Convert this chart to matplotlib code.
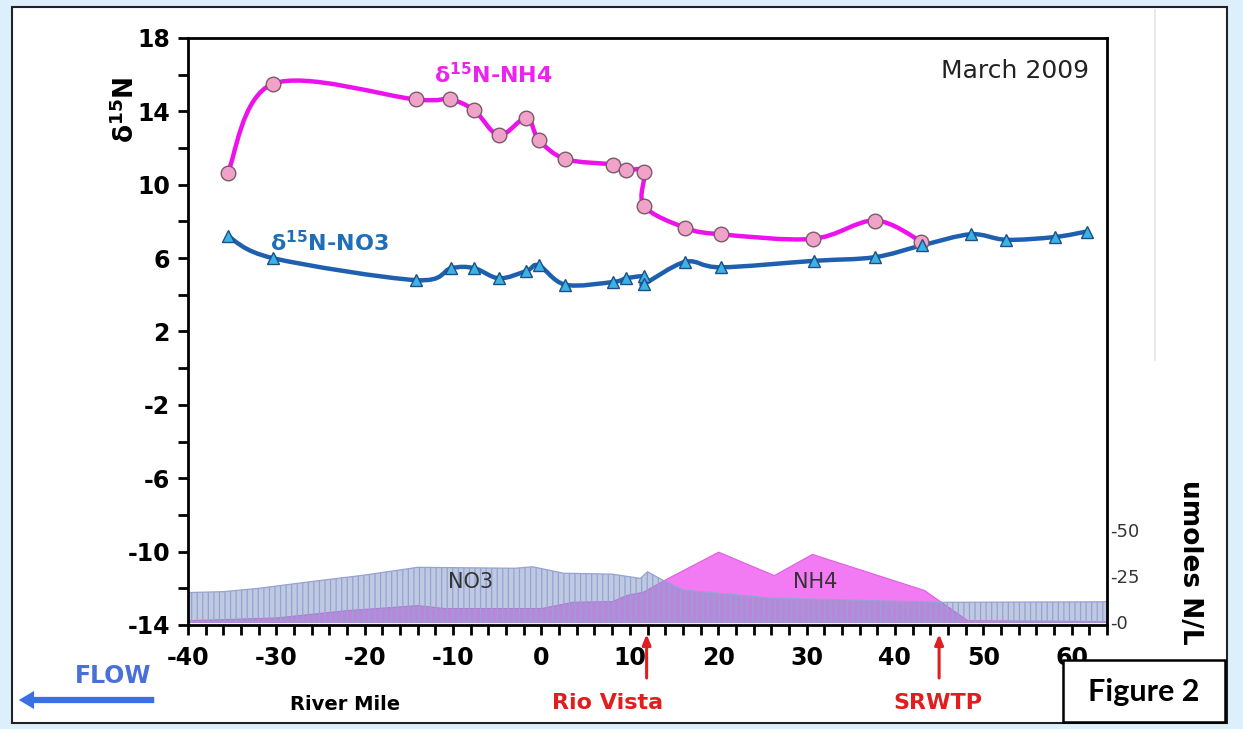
import numpy as np
import matplotlib
matplotlib.use("Agg")
from matplotlib import pyplot as plt
from matplotlib.path import Path
from matplotlib.patches import PathPatch, Rectangle
from matplotlib.lines import Line2D

# d15N of ammonium (circles) vs river mile
nh4_x = [-35.5, -30.4, -14.2, -10.4, -7.6, -4.8, -1.7, -0.3, 2.7, 8.1, 9.6, 11.6, 11.6,
         16.3, 20.3, 30.7, 37.7, 43.0]
nh4_y = [10.65, 15.5, 14.65, 14.65, 14.05, 12.7, 13.65, 12.45, 11.4, 11.1, 10.8, 10.7, 8.85,
         7.65, 7.3, 7.05, 8.05, 6.9]

# d15N of nitrate (triangles)
no3_x = [-35.5, -30.4, -14.2, -10.2, -7.6, -4.8, -1.7, -0.3, 2.7, 8.1, 9.6, 11.6, 11.6,
         16.3, 20.3, 30.8, 37.7, 43.1, 48.6, 52.6, 58.1, 61.7]
no3_y = [7.2, 6.0, 4.8, 5.45, 5.45, 4.9, 5.3, 5.6, 4.55, 4.7, 4.9, 5.0, 4.6,
         5.8, 5.5, 5.85, 6.05, 6.7, 7.3, 7.0, 7.15, 7.45]

# concentration profiles (umoles N/L), secondary axis
no3_conc_x = [-40, -36, -32, -26, -20, -14, -3, -1, 2.5, 8, 11.2, 12, 13.7, 16, 26, 45, 64]
no3_conc = [16, 16.5, 18.3, 22, 25.5, 29.7, 29.2, 30, 26.5, 26, 23.7, 27.3, 22.8, 17.4, 13, 10.7, 11]
nh4_conc_x = [-40, -30, -22, -14, -11, 0, 3.5, 8, 9.6, 11.5, 14.2, 20, 26.3, 30.6, 43.3, 45.2,
              48.2, 64]
nh4_conc = [1, 2.5, 6.5, 9.2, 7.6, 7.6, 11, 11.4, 14.7, 16.5, 23.7, 38.2, 25.5, 37, 17.4, 11,
            1, 0.5]

x_ticks = [-40, -30, -20, -10, 0, 10, 20, 30, 40, 50, 60]
y_ticks = [-14, -10, -6, -2, 2, 6, 10, 14, 18]
conc_ticks = [0, 25, 50]
conc_labels = ['-0', '-25', '-50']

rio_vista = 11.9
srwtp = 45.0

W, H = 1243, 729


def smooth_path(xs, ys):
    # excel-like smoothed line (catmull-rom as cubic bezier)
    p = np.column_stack([xs, ys]).astype(float)
    n = len(p)
    verts = [p[0]]
    codes = [Path.MOVETO]
    for i in range(n - 1):
        p0 = p[i - 1] if i > 0 else p[i]
        p3 = p[i + 2] if i + 2 < n else p[i + 1]
        c1 = p[i] + (p[i + 1] - p0) / 6
        c2 = p[i + 1] - (p3 - p[i]) / 6
        verts += [c1, c2, p[i + 1]]
        codes += [Path.CURVE4] * 3
    return Path(verts, codes)


plt.rcParams['hatch.linewidth'] = 0.9
plt.rcParams['axes.unicode_minus'] = False
plt.rcParams['mathtext.fontset'] = 'dejavusans'
plt.rcParams['mathtext.default'] = 'bf'

fig = plt.figure(figsize=(W / 100, H / 100), dpi=100)
fig.patch.set_facecolor('#ddeffb')

# white panel
fig.patches.append(Rectangle((12 / W, 6 / H), (1227 - 12) / W, (722 - 6) / H,
                             transform=fig.transFigure, facecolor='white',
                             edgecolor='#222222', lw=1.5, zorder=-10))
fig.add_artist(Line2D([1155 / W, 1155 / W], [1 - 360 / H, 1 - 10 / H],
                      transform=fig.transFigure, color='#e6e6e6', lw=1.2, zorder=-5))

ax = fig.add_axes([188 / W, 1 - 625 / H, (1107 - 188) / W, (625 - 38) / H])
ax2 = ax.twinx()

# concentration areas
ax2.fill_between(nh4_conc_x, 0, nh4_conc, facecolor='#f27af2', edgecolor='#e060e0',
                 lw=0.8, zorder=1)
ax2.fill_between(no3_conc_x, 0, no3_conc, facecolor=(0.50, 0.58, 0.78, 0.5),
                 edgecolor='#95a3d2', hatch='|||', lw=0.9, zorder=2)
ax2.set_ylim(-1.6, 317)
ax2.set_yticks(conc_ticks)
ax2.set_yticklabels(conc_labels)
ax2.tick_params(axis='y', length=0, pad=2, labelsize=13, labelcolor='#333333')
for s in ax2.spines.values():
    s.set_visible(False)
ax2.text(-8, 22, 'NO3', fontsize=15, color='#333333', ha='center', va='center', zorder=3)
ax2.text(31, 22, 'NH4', fontsize=15, color='#333333', ha='center', va='center', zorder=3)

ax.set_zorder(ax2.get_zorder() + 1)
ax.patch.set_visible(False)

# smoothed lines
ax.add_patch(PathPatch(smooth_path(nh4_x, nh4_y), fill=False, edgecolor='#ee11ee', lw=3.2,
                       zorder=3))
ax.add_patch(PathPatch(smooth_path(no3_x, no3_y), fill=False, edgecolor='#1f5fb0', lw=3.2,
                       zorder=3))
ax.plot(nh4_x, nh4_y, 'o', ms=10.5, mfc='#f0a2c8', mec='#7a5a6a', mew=1.0, zorder=4)
ax.plot(no3_x, no3_y, '^', ms=8, mfc='#3ab4e6', mec='#1d4f86', mew=1.0, zorder=4)

ax.set_xlim(-40, 64)
ax.set_ylim(-14, 18)
ax.set_xticks(x_ticks)
ax.set_yticks(y_ticks)
ax.set_xticks(np.arange(-40, 65, 2), minor=True)
ax.set_yticks(np.arange(-14, 19, 2), minor=True)
ax.tick_params(which='both', direction='out', length=7, width=2, color='black')
ax.tick_params(axis='x', pad=8)
ax.tick_params(axis='y', pad=6)
for lab in ax.get_xticklabels() + ax.get_yticklabels():
    lab.set_fontsize(17)
    lab.set_fontweight('bold')
for s in ax.spines.values():
    s.set_linewidth(2)

# series labels
ax.text(-5.5, 16.0, 'δ$^{15}$N-NH4', color='#ee22ee', fontsize=16, fontweight='bold',
        ha='center', va='center')
ax.text(-24.0, 6.85, 'δ$^{15}$N-NO3', color='#1f6fb8', fontsize=16, fontweight='bold',
        ha='center', va='center')
ax.text(0.98, 0.965, 'March 2009', transform=ax.transAxes, fontsize=18, color='#222222',
        ha='right', va='top')

fig.text(126 / W, 1 - 110 / H, 'δ$^{15}$N', rotation=90, fontsize=19, fontweight='bold',
         ha='center', va='center')
fig.text(1190 / W, 1 - 562 / H, 'umoles N/L', rotation=-90, fontsize=19, fontweight='bold',
         ha='center', va='center')

# bottom annotations
fig.text(345 / W, 1 - 704 / H, 'River Mile', fontsize=14, fontweight='bold',
         ha='center', va='center')
fig.text(608 / W, 1 - 703 / H, 'Rio Vista', fontsize=16, fontweight='bold', color='#e01e1e',
         ha='center', va='center')
fig.text(938 / W, 1 - 703 / H, 'SRWTP', fontsize=16, fontweight='bold', color='#e01e1e',
         ha='center', va='center')
for xm in [rio_vista, srwtp]:
    ax.annotate('', xy=(xm, -0.011), xycoords=ax.get_xaxis_transform(),
                xytext=(xm, -0.095), textcoords=ax.get_xaxis_transform(),
                arrowprops=dict(arrowstyle='-|>,head_length=0.6,head_width=0.25',
                                color='#e01e1e', lw=2.2), annotation_clip=False)

fig.text(113 / W, 1 - 676 / H, 'FLOW', fontsize=17, fontweight='bold', color='#4a6fd8',
         ha='center', va='center')
ax.annotate('', xy=(16, H - 700), xycoords='figure pixels', xytext=(157, H - 700),
            textcoords='figure pixels',
            arrowprops=dict(arrowstyle='simple,head_length=1.1,head_width=1.3,tail_width=0.45',
                            color='#3b6fe6', lw=0), annotation_clip=False)

# figure tag
fig.patches.append(Rectangle((1063 / W, 1 - 722 / H), (1225 - 1063) / W, (722 - 660) / H,
                             transform=fig.transFigure, facecolor='white',
                             edgecolor='black', lw=1.8, zorder=10))
fig.text(1144 / W, 1 - 692 / H, 'Figure 2', fontsize=22, fontweight='bold',
         family=['Lato', 'DejaVu Sans'], ha='center', va='center', zorder=11)

fig.savefig('out.png', dpi=100, facecolor=fig.get_facecolor())
